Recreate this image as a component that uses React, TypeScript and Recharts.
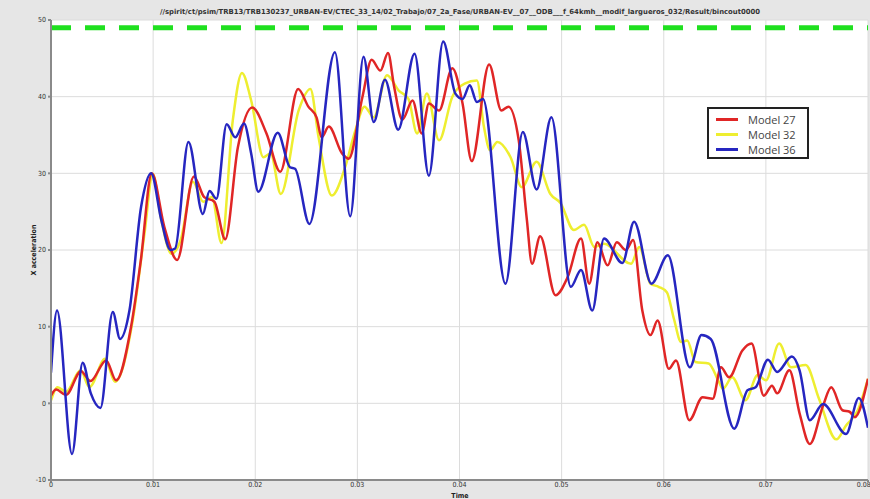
import { LineChart, Line, XAxis, YAxis, CartesianGrid, ReferenceLine } from "recharts";

// time in ms, X acceleration
const model27: [number, number][] = [
    [0, 1.0], [0.5, 1.8], [1.47, 1.1], [2.94, 4.2], [3.86, 2.9], [5.4, 5.6], [6.37, 3.0], [7.84, 10], [8.8, 18.7],
    [9.87, 30.0], [11.1, 23], [12.35, 18.7], [13.99, 29.6], [15.0, 26.9], [16.0, 26.3], [17.06, 21.4], [18.3, 33.4],
    [19.7, 38.6], [21.1, 35.2], [22.45, 30.2], [24.2, 41.0], [25.2, 38.7], [26.0, 37.3], [26.5, 34.7], [27.2, 36.1],
    [28.5, 32.6], [29.15, 31.9], [30.5, 40], [31.4, 44.8], [32.25, 43.4], [33.0, 45.7], [33.6, 41.3], [34.4, 37.0],
    [35.4, 39.5], [36.3, 35.2], [37.0, 39.1], [38.0, 38.2], [39.3, 43.7], [40.3, 39.1], [41.2, 31.6], [42.9, 44.2],
    [44.1, 38.2], [44.8, 38.7], [45.8, 34.3], [46.6, 23.9], [47.1, 18.2], [47.9, 21.8], [49.4, 14.1], [50.6, 16.5],
    [51.9, 21.5], [52.7, 15.6], [53.5, 21], [54.5, 18], [55.4, 21], [56.3, 20], [57.0, 21.3], [57.9, 12.1], [58.7, 8.9],
    [59.4, 10.8], [60.5, 4.5], [61.2, 5.6], [62.5, -2.2], [63.8, 0.8], [64.8, 0.6], [65.6, 4.7], [66.4, 3.4],
    [67.7, 6.9], [68.6, 7.8], [69.8, 1.0], [70.6, 2.3], [71.1, 1.3], [72.3, 4.3], [73.3, -1.3], [74.3, -5.3],
    [75.6, -0.3], [76.4, 2.1], [77.5, -0.9], [78.2, -1.1], [78.7, -1.8], [80, 3.2],
];

const model32: [number, number][] = [
    [0, 0.4], [0.65, 2.1], [1.47, 1.5], [2.9, 4.3], [3.76, 2.1], [5.3, 5.8], [6.27, 2.8], [8.0, 10.8], [9.15, 22.1],
    [9.97, 29.9], [10.8, 23.9], [11.8, 19.5], [12.7, 21.3], [13.9, 28.9], [14.9, 26.3], [15.75, 26.9], [16.7, 20.9],
    [17.8, 36.9], [18.7, 43.1], [19.6, 39.5], [20.8, 32.1], [21.5, 32.6], [22.5, 27.3], [24.25, 38.2], [25.4, 41.0],
    [26.2, 34.7], [27.5, 27.1], [28.8, 30.8], [29.8, 35.6], [30.7, 38.7], [31.6, 37.3], [32.9, 42.8], [34.05, 40.8],
    [35.0, 39.7], [35.85, 35.2], [36.8, 40.4], [38.0, 34.3], [39.3, 40], [40.5, 41.7], [41.7, 42.1], [42.4, 36],
    [43.0, 33], [43.7, 34.1], [45.0, 32.1], [46.1, 28.2], [47.55, 31.5], [48.9, 27.3], [49.9, 26.1], [51.2, 22.6],
    [52.2, 23.3], [53.2, 20.4], [54.15, 20.8], [56.8, 18.2], [57.6, 20.4], [58.7, 15.6], [59.5, 15.2], [60.3, 14.5],
    [61.0, 11], [61.7, 8.0], [62.3, 8.2], [63.1, 5.4], [64.4, 5.2], [65.4, 2.8], [65.8, 1.9], [66.7, 3.4], [68.0, 0.4],
    [69.2, 3.7], [70.0, 3.0], [71.3, 7.8], [72.45, 4.7], [73.9, 5.0], [75.2, 0.6], [76.9, -4.7], [77.85, -2.9],
    [79.0, -0.9], [80, 3.2],
];

const model36: [number, number][] = [
    [0, 4], [0.59, 12.1], [2.06, -6.6], [3.1, 5.3], [3.9, 1.3], [4.84, -0.6], [6.05, 11.9], [6.76, 8.4], [7.68, 12.1],
    [8.82, 25.6], [9.8, 30.0], [10.8, 23.9], [11.7, 20.0], [12.16, 20.2], [13.46, 34.1], [14.87, 24.7], [15.52, 27.7],
    [16.2, 26.7], [17.2, 36.4], [18.04, 34.7], [18.9, 36.5], [19.6, 32.6], [20.3, 27.6], [22.2, 35.3], [23.4, 30.8],
    [23.9, 30.6], [25.3, 23.4], [27.8, 45.8], [29.3, 24.4], [30.6, 45.2], [31.6, 36.7], [32.7, 42.2], [34.0, 35.7],
    [35.6, 45.6], [37.0, 29.7], [38.4, 47.2], [39.6, 40.4], [40.3, 39.7], [41.0, 41.5], [41.7, 39.3], [42.3, 39.7],
    [44.5, 15.6], [46.2, 35.4], [47.55, 27.9], [49.0, 37.3], [50.9, 15.2], [51.9, 17.4], [53.0, 12.1], [54.15, 21.5],
    [55.95, 18.3], [57.1, 23.7], [58.8, 15.6], [60.4, 19.3], [62.55, 4.7], [63.7, 8.9], [64.6, 8.4], [66.9, -3.3],
    [68.2, 1.7], [69.0, 2.1], [70.2, 5.7], [71.1, 4.1], [72.55, 6.1], [73.3, 4.3], [74.3, -2.2], [75.6, -0.1],
    [77.85, -4.0], [79.1, 0.7], [80, -3.2],
];

const xTicks = [0, 0.01, 0.02, 0.03, 0.04, 0.05, 0.06, 0.07, 0.08];
const yTicks = [-10, 0, 10, 20, 30, 40, 50];
const limitValue = 49;

const series = [
    { name: "Model 27", color: "#e02626", points: model27 },
    { name: "Model 32", color: "#eeee30", points: model32 },
    { name: "Model 36", color: "#2626c0", points: model36 },
];

const title =
    "//spirit/ct/psim/TRB13/TRB130237_URBAN-EV/CTEC_33_14/02_Trabajo/07_2a_Fase/URBAN-EV__07__ODB___f_64kmh__modif_largueros_032/Result/bincout0000";

const toData = (pts: [number, number][]) => pts.map(([t, v]) => ({ t: t / 1000, v }));

const font = "Liberation Sans Narrow, DejaVu Sans Condensed, sans-serif";
const tickStyle = { fontSize: 7, fill: "#333", fontFamily: font };

export default function App() {
    // draw yellow first, then red, then blue on top
    const drawOrder = [series[1], series[0], series[2]];
    return (
        <div style={{ position: "absolute", left: 0, top: 0, width: 870, height: 499, background: "#e6e6e6", overflow: "hidden" }}>
            <LineChart width={870} height={499} margin={{ top: 20, right: 2, bottom: 0, left: 31 }}>
                <CartesianGrid stroke="#dcdcdc" fill="#fff" />
                <XAxis
                    dataKey="t"
                    type="number"
                    domain={[0, 0.08]}
                    ticks={xTicks}
                    tickFormatter={(v: number) => (v === 0 ? "0" : v.toFixed(2))}
                    tick={tickStyle}
                    tickSize={2}
                    tickMargin={0}
                    height={19}
                    stroke="#8a8a8a"
                    strokeWidth={2}
                    allowDataOverflow
                />
                <YAxis
                    dataKey="v"
                    type="number"
                    domain={[-10, 50]}
                    ticks={yTicks}
                    tick={tickStyle}
                    tickSize={3}
                    width={20}
                    stroke="#8a8a8a"
                    strokeWidth={2}
                    allowDataOverflow
                />
                <ReferenceLine y={limitValue} stroke="#1fe01f" strokeWidth={5} strokeDasharray="20 14" />
                {drawOrder.map((s) => (
                    <Line
                        key={s.name}
                        data={toData(s.points)}
                        dataKey="v"
                        name={s.name}
                        type="monotone"
                        stroke={s.color}
                        strokeWidth={2.5}
                        dot={false}
                        isAnimationActive={false}
                    />
                ))}
            </LineChart>
            <svg width={870} height={499} style={{ position: "absolute", left: 0, top: 0, pointerEvents: "none" }}>
                <text x={460} y={14} textAnchor="middle" fontSize={7} fontWeight="bold" fill="#333"
                    fontFamily={font} textLength={600} lengthAdjust="spacingAndGlyphs">
                    {title}
                </text>
                <text x={36} y={250} textAnchor="middle" fontSize={7} fontWeight="bold" fill="#222"
                    fontFamily={font} transform="rotate(-90 36 250)">
                    X acceleration
                </text>
                <text x={460} y={498} textAnchor="middle" fontSize={7} fontWeight="bold" fill="#222" fontFamily={font}>
                    Time
                </text>
            </svg>
            <div style={{
                position: "absolute", left: 707, top: 107, width: 102, height: 52, border: "2px solid #222",
                background: "#fff", boxSizing: "border-box", padding: "3px 0 0 7px",
                fontFamily: "Open Sans, sans-serif", fontSize: 11, color: "#444", lineHeight: "15px",
            }}>
                {series.map((s) => (
                    <div key={s.name} style={{ display: "flex", alignItems: "center" }}>
                        <span style={{ display: "inline-block", width: 22, height: 3, background: s.color, marginRight: 10 }} />
                        <span>{s.name}</span>
                    </div>
                ))}
            </div>
        </div>
    );
}
